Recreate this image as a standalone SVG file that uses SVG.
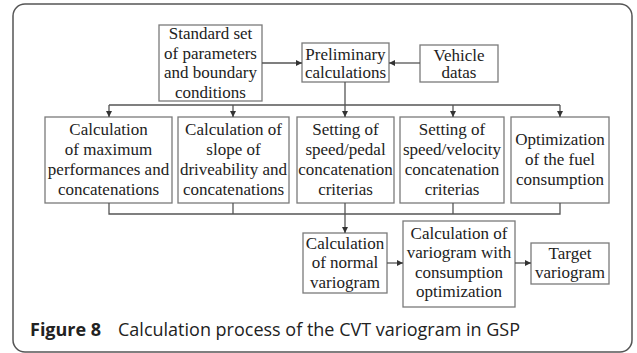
<svg xmlns="http://www.w3.org/2000/svg" width="637" height="353" viewBox="0 0 637 353">
<style>
.frame{fill:#fff;stroke:#555;stroke-width:1.5}
.box rect{fill:#fff;stroke:#7a7a7a;stroke-width:1.3}
.conn path{fill:none;stroke:#555;stroke-width:1.3}
.bt{font-family:'Liberation Serif',serif;font-size:17px;fill:#222;text-anchor:middle}
.cap{font-family:'Open Sans',sans-serif;font-size:18px;fill:#222}
</style>
<defs>
<marker id="ah" viewBox="0 0 6 6" refX="6" refY="3" markerWidth="6" markerHeight="6" markerUnits="userSpaceOnUse" orient="auto">
<path d="M0,0 L6,3 L0,6 Z" fill="#333"/>
</marker>
</defs>
<rect class="frame" x="13" y="4" width="619" height="348" rx="12"/>

<g class="bt">
<g id="standard" class="box"><rect x="159" y="25" width="103" height="76"/>
<text x="210.5" y="39">Standard set</text><text x="210.5" y="58.5">of parameters</text><text x="210.5" y="78">and boundary</text><text x="210.5" y="97.5">conditions</text></g>

<g id="preliminary" class="box"><rect x="302" y="43" width="87" height="39"/>
<text x="345.5" y="59.5">Preliminary</text><text x="345.5" y="78">calculations</text></g>

<g id="vehicle" class="box"><rect x="420" y="45" width="78" height="37"/>
<text x="459" y="60.5">Vehicle</text><text x="459" y="78">datas</text></g>

<g id="maxperf" class="box"><rect x="45" y="117" width="127" height="86"/>
<text x="108.5" y="135">Calculation</text><text x="108.5" y="155">of maximum</text><text x="108.5" y="175">performances and</text><text x="108.5" y="195">concatenations</text></g>

<g id="slope" class="box"><rect x="178" y="117" width="111" height="86"/>
<text x="233.5" y="135">Calculation of</text><text x="233.5" y="155">slope of</text><text x="233.5" y="175">driveability and</text><text x="233.5" y="195">concatenations</text></g>

<g id="pedal" class="box"><rect x="297" y="117" width="97" height="86"/>
<text x="345.5" y="135">Setting of</text><text x="345.5" y="155">speed/pedal</text><text x="345.5" y="175">concatenation</text><text x="345.5" y="195">criterias</text></g>

<g id="velocity" class="box"><rect x="400" y="117" width="104" height="86"/>
<text x="452" y="135">Setting of</text><text x="452" y="155">speed/velocity</text><text x="452" y="175">concatenation</text><text x="452" y="195">criterias</text></g>

<g id="fuel" class="box"><rect x="511" y="117" width="98" height="86"/>
<text x="560" y="145">Optimization</text><text x="560" y="165">of the fuel</text><text x="560" y="185">consumption</text></g>

<g id="normal" class="box"><rect x="303" y="233" width="84" height="60"/>
<text x="345" y="248.5">Calculation</text><text x="345" y="268">of normal</text><text x="345" y="287.5">variogram</text></g>

<g id="withopt" class="box"><rect x="403" y="221" width="112" height="86"/>
<text x="459" y="238.5">Calculation of</text><text x="459" y="258">variogram with</text><text x="459" y="277.5">consumption</text><text x="459" y="297">optimization</text></g>

<g id="target" class="box"><rect x="531" y="243" width="78" height="41"/>
<text x="570" y="259">Target</text><text x="570" y="277.5">variogram</text></g>
</g>

<g id="connectors" class="conn">
<path d="M262,63 H302" marker-end="url(#ah)"/>
<path d="M420,63 H389" marker-end="url(#ah)"/>
<path d="M345,82 V105"/>
<path d="M109,105 H560"/>
<path d="M109,105 V117" marker-end="url(#ah)"/>
<path d="M233,105 V117" marker-end="url(#ah)"/>
<path d="M345,105 V117" marker-end="url(#ah)"/>
<path d="M453,105 V117" marker-end="url(#ah)"/>
<path d="M560,105 V117" marker-end="url(#ah)"/>
<path d="M109,203 V214 H560 V203"/>
<path d="M233,203 V214"/>
<path d="M345,203 V214"/>
<path d="M453,203 V214"/>
<path d="M345,214 V233" marker-end="url(#ah)"/>
<path d="M387,263 H403" marker-end="url(#ah)"/>
<path d="M515,263 H531" marker-end="url(#ah)"/>
</g>

<text class="cap" x="30" y="336"><tspan font-weight="bold">Figure 8</tspan><tspan x="118">Calculation process of the CVT variogram in GSP</tspan></text>
</svg>
